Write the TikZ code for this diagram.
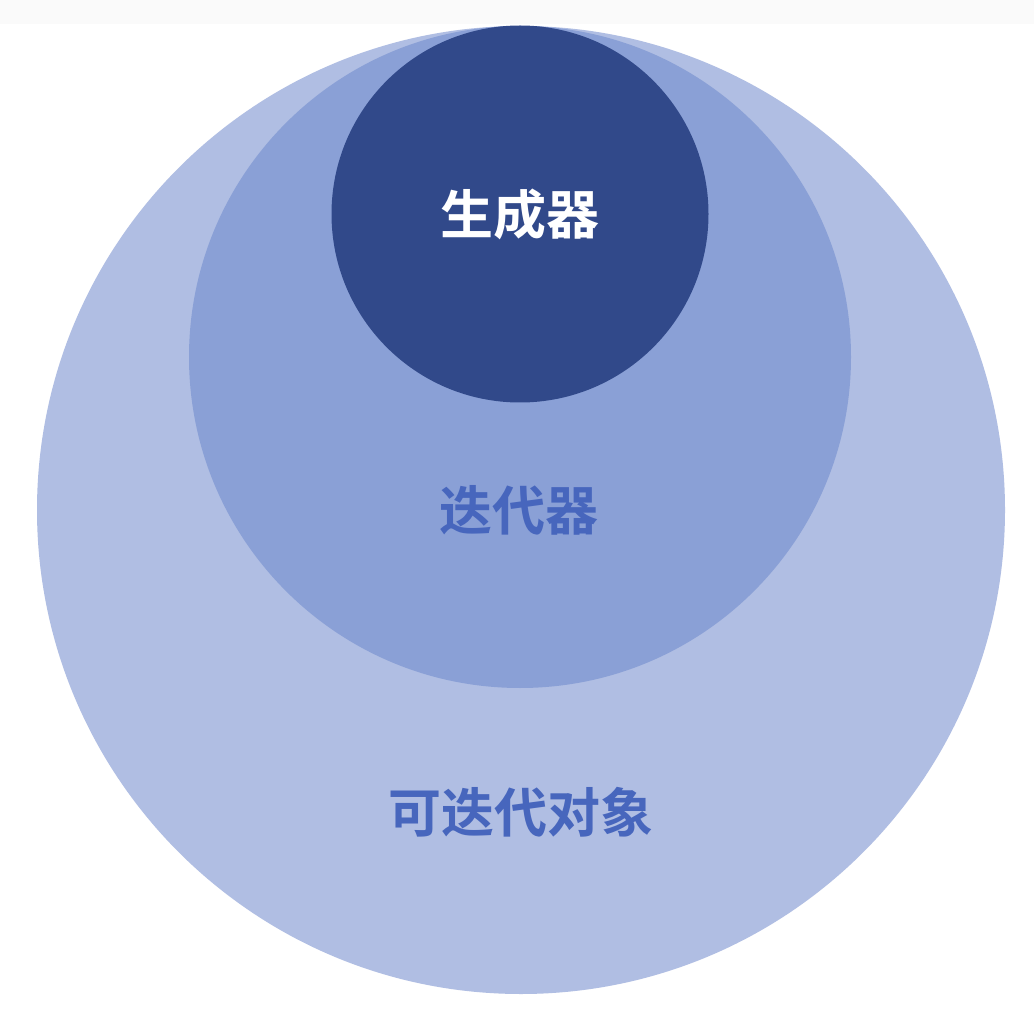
\documentclass[tikz,border=0pt]{standalone}
\usepackage{fontspec}
\newfontfamily\cjk{Noto Sans CJK SC}
\newfontfamily\cjkb{Noto Sans CJK SC Bold}
\definecolor{outerc}{HTML}{B0BEE3}
\definecolor{midc}{HTML}{8AA0D6}
\definecolor{innerc}{HTML}{31498A}
\definecolor{txtc}{HTML}{4766BD}
\definecolor{stripc}{HTML}{FAFAFA}
\begin{document}
\begin{tikzpicture}[x=1pt,y=-1pt,
  ring/.style={circle,draw=none,inner sep=0pt},
  lbl/.style={font=\cjkb\fontsize{53}{53}\selectfont}]
\useasboundingbox (0,0) rectangle (1034,1016);
\fill[white] (0,0) rectangle (1034,1016);
\fill[stripc] (0,0) rectangle (1034,24);
\node[ring,fill=outerc,minimum size=968pt] (outer) at (521,510) {};
\node[ring,fill=midc,minimum size=662pt] (mid) at (520,357) {};
\node[ring,fill=innerc,minimum size=377pt] (inner) at (520,214) {};
\node[lbl,text=white] (gen) at (520,214) {生成器};
\node[lbl,text=txtc] (iter) at (519,510) {迭代器};
\node[lbl,text=txtc] (iterable) at (521,812) {可迭代对象};
\end{tikzpicture}
\end{document}
